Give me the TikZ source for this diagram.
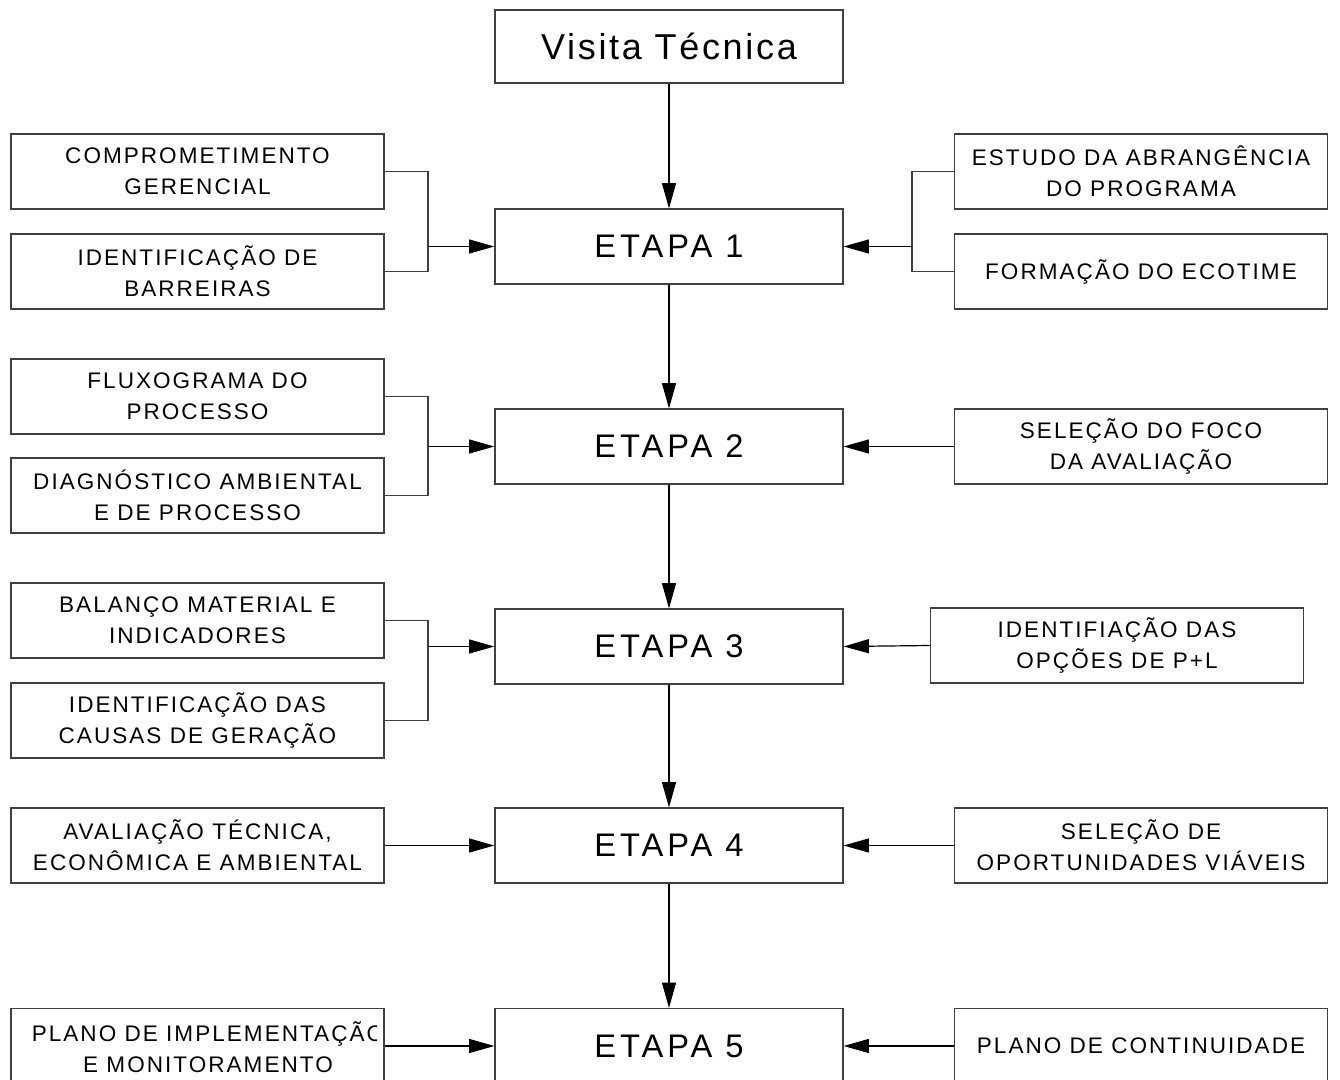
\documentclass[tikz,border=0pt]{standalone}
\usepackage{fontspec}
\setmainfont{Liberation Sans}[LetterSpace=9]
\newfontfamily\etapafont{Liberation Sans}[LetterSpace=12]
\newfontfamily\visitafont{Liberation Sans}[LetterSpace=7.5]
\usetikzlibrary{arrows.meta}
\begin{document}
\begin{tikzpicture}[x=0.75pt,y=-0.75pt,
  box/.style={draw=black!75, line width=0.9pt, inner sep=0pt, align=center,
    font=\fontsize{16.9}{23.25}\selectfont},
  lbox/.style={box, minimum width=279.75pt, minimum height=56.25pt},
  ebox/.style={box, minimum width=261pt, minimum height=56.25pt,
    font=\etapafont\fontsize{24.5}{27}\selectfont},
  lbl/.style={inner sep=0pt, align=center, font=\fontsize{16.9}{23.25}\selectfont},
  wire/.style={draw=black!75, line width=0.9pt},
  arr/.style={draw=black, line width=0.9pt, -{Triangle[length=19pt,width=10.5pt]}}
]
\useasboundingbox (0,0) rectangle (1340,1080);
\fill[white] (0,0) rectangle (1340,1080);

% centre column
\node[ebox, minimum height=54.75pt, font=\visitafont\fontsize{27}{30}\selectfont] (vt) at (669,46.5) {Visita Técnica};
\node[ebox] (e1) at (669,246.5) {ETAPA 1};
\node[ebox] (e2) at (669,446.5) {ETAPA 2};
\node[ebox] (e3) at (669,646.5) {ETAPA 3};
\node[ebox] (e4) at (669,845.5) {ETAPA 4};
\node[ebox] (e5) at (669,1046) {ETAPA 5};

% left boxes
\node[lbox] (l1a) at (197.5,171.5) {COMPROMETIMENTO\\GERENCIAL};
\node[lbox] (l1b) at (197.5,271.5) {IDENTIFICAÇÃO DE\\BARREIRAS};
\node[lbox] (l2a) at (197.5,396.5) {FLUXOGRAMA DO\\PROCESSO};
\node[lbox] (l2b) at (197.5,495.5) {DIAGNÓSTICO AMBIENTAL\\E DE PROCESSO};
\node[lbox] (l3a) at (197.5,620.5) {BALANÇO MATERIAL E\\INDICADORES};
\node[lbox] (l3b) at (197.5,720.5) {IDENTIFICAÇÃO DAS\\CAUSAS DE GERAÇÃO};
\node[lbox] (l4) at (197.5,845.5) {AVALIAÇÃO TÉCNICA,\\ECONÔMICA E AMBIENTAL};
\node[lbox] (l5) at (197.5,1046) {};
\begin{scope}
  \clip (12,1009) rectangle (376,1084);
  \node[lbl] (l5t) at (208,1047) {PLANO DE IMPLEMENTAÇÃO\\E MONITORAMENTO};
\end{scope}

% right boxes
\node[lbox] (r1a) at (1141,171.5) {ESTUDO DA ABRANGÊNCIA\\DO PROGRAMA};
\node[lbox] (r1b) at (1141,271.5) {FORMAÇÃO DO ECOTIME};
\node[lbox] (r2) at (1141,446.5) {SELEÇÃO DO FOCO\\DA AVALIAÇÃO};
\node[lbox] (r3) at (1117,645.5) {IDENTIFIAÇÃO DAS\\OPÇÕES DE P+L};
\node[lbox] (r4) at (1141,845.5) {SELEÇÃO DE\\OPORTUNIDADES VIÁVEIS};
\node[lbox] (r5) at (1141,1046) {PLANO DE CONTINUIDADE};

% junction coordinates
\coordinate (j1) at (428,246.5);
\coordinate (j2) at (428,446.5);
\coordinate (j3) at (428,646.5);
\coordinate (k1) at (912,246.5);

% vertical flow
\draw[arr] (vt) -- (e1);
\draw[arr] (e1) -- (e2);
\draw[arr] (e2) -- (e3);
\draw[arr] (e3) -- (e4);
\draw[arr] (e4) -- (e5);

% left brackets
\draw[wire] (l1a.east) -| (j1) |- (l1b.east);
\draw[arr] (j1) -- (e1.west);
\draw[wire] (l2a.east) -| (j2) |- (l2b.east);
\draw[arr] (j2) -- (e2.west);
\draw[wire] (l3a.east) -| (j3) |- (l3b.east);
\draw[arr] (j3) -- (e3.west);
\draw[arr] (l4.east) -- (e4.west);
\draw[arr] (l5.east) -- (e5.west);

% right side
\draw[wire] (r1a.west) -| (k1) |- (r1b.west);
\draw[arr] (k1) -- (e1.east);
\draw[arr] (r2.west) -- (e2.east);
\draw[arr] (r3.west) -- (e3.east);
\draw[arr] (r4.west) -- (e4.east);
\draw[arr] (r5.west) -- (e5.east);
\end{tikzpicture}
\end{document}
